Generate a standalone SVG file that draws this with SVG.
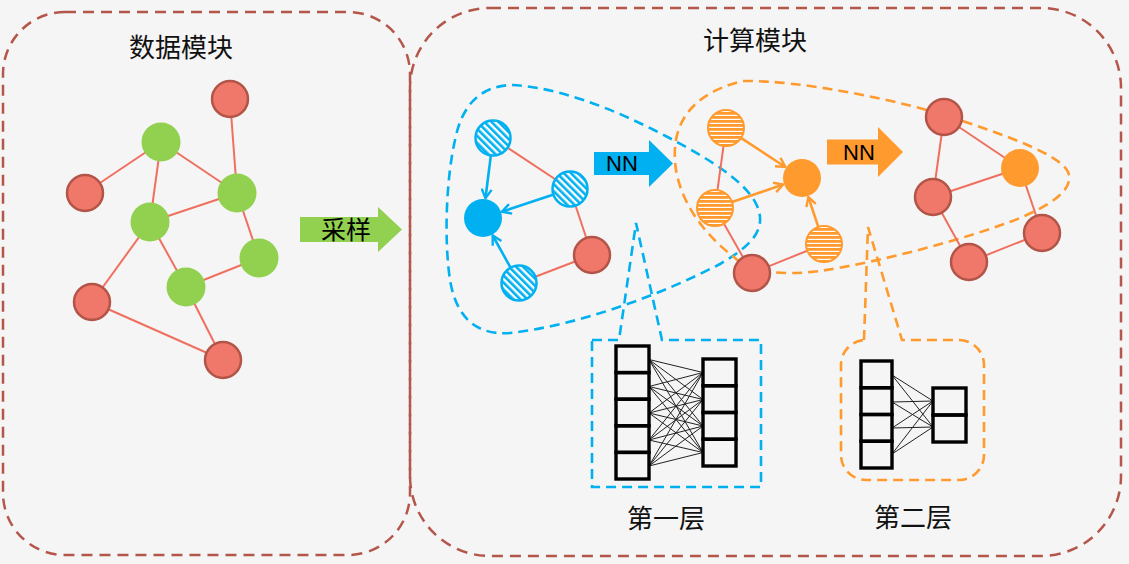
<svg xmlns="http://www.w3.org/2000/svg" width="1129" height="564" viewBox="0 0 1129 564">
<defs>
<style>
.bg{fill:#F5F5F5}
.box{fill:none;stroke:#B5564B;stroke-width:2.5;stroke-dasharray:11 7}
.blob-b{fill:none;stroke:#00B0F0;stroke-width:2.6;stroke-dasharray:10 6}
.blob-o{fill:none;stroke:#FF9A2E;stroke-width:2.6;stroke-dasharray:10 6}
.red{fill:#F0786A;stroke:#B35448;stroke-width:2.5}
.green{fill:#92D050}
.bsolid{fill:#00B0F0}
.osolid{fill:#FF9A2E}
.bhatch{fill:url(#hb);stroke:#00B0F0;stroke-width:2.5}
.ohatch{fill:url(#ho);stroke:#FF9A2E;stroke-width:2}
.edge{stroke:#F07060;stroke-width:2;fill:none}
.barrow{stroke:#00B0F0;stroke-width:2.6;fill:none;marker-end:url(#mb)}
.oarrow{stroke:#FF9A2E;stroke-width:2.6;fill:none;marker-end:url(#mo)}
.cell{fill:none;stroke:#000;stroke-width:3.4}
.wire{stroke:#222;stroke-width:1}
.t{font-family:"Noto Sans CJK SC","Noto Sans CJK JP",sans-serif;font-size:26px;fill:#111;text-anchor:middle}
.nn{font-family:"Liberation Sans",Arial,sans-serif;font-size:22px;fill:#000;text-anchor:middle}
</style>
<pattern id="hb" width="5" height="5" patternUnits="userSpaceOnUse" patternTransform="rotate(-45)">
<rect width="5" height="5" fill="#fff"/>
<rect width="2.6" height="5" fill="#00B0F0"/>
</pattern>
<pattern id="ho" width="4" height="4" patternUnits="userSpaceOnUse">
<rect width="4" height="4" fill="#fff"/>
<rect width="4" height="2.8" fill="#FF9A2E"/>
</pattern>
<marker id="mb" viewBox="0 0 12 12" refX="11" refY="6" markerWidth="12" markerHeight="12" markerUnits="userSpaceOnUse" orient="auto">
<path d="M2,1 L11,6 L2,11" fill="none" stroke="#00B0F0" stroke-width="2.4"/>
</marker>
<marker id="mo" viewBox="0 0 12 12" refX="11" refY="6" markerWidth="12" markerHeight="12" markerUnits="userSpaceOnUse" orient="auto">
<path d="M2,1 L11,6 L2,11" fill="none" stroke="#FF9A2E" stroke-width="2.4"/>
</marker>
</defs>
<rect class="bg" x="0" y="0" width="1129" height="564"/>

<g id="data-module">
<rect class="box" x="3" y="12" width="407" height="543" rx="62" ry="62"/>
<text class="t" x="181" y="57">数据模块</text>
</g>
<g id="compute-module">
<rect class="box" x="410" y="8" width="711" height="548" rx="80" ry="80"/>
<text class="t" x="755" y="50">计算模块</text>
</g>

<g id="blob-blue">
<path class="blob-b" d="M512,85 C570,88 640,120 700,155 C735,176 762,198 760,222 C758,240 740,252 720,264 C660,295 580,325 510,333 C470,336 455,310 450,280 C444,240 446,180 455,140 C462,105 480,86 512,85 Z"/>
</g>
<g id="blob-orange">
<path class="blob-o" d="M743,81 C800,80 900,100 960,120 C1010,137 1060,155 1068,172 C1075,190 1050,205 1020,218 C970,238 880,262 820,271 C780,276 750,272 735,258 C705,235 682,205 676,170 C670,130 685,95 743,81 Z"/>
</g>

<g id="connectors">
<line class="edge" x1="230" y1="99" x2="237" y2="193"/>
<line class="edge" x1="161" y1="142" x2="85" y2="193"/>
<line class="edge" x1="161" y1="142" x2="237" y2="193"/>
<line class="edge" x1="161" y1="142" x2="150" y2="222"/>
<line class="edge" x1="150" y1="222" x2="237" y2="193"/>
<line class="edge" x1="237" y1="193" x2="259" y2="258"/>
<line class="edge" x1="150" y1="222" x2="92" y2="302"/>
<line class="edge" x1="150" y1="222" x2="186" y2="287"/>
<line class="edge" x1="186" y1="287" x2="259" y2="258"/>
<line class="edge" x1="186" y1="287" x2="223" y2="360"/>
<line class="edge" x1="92" y1="302" x2="223" y2="360"/>

<line class="edge" x1="493" y1="138" x2="570" y2="189"/>
<line class="edge" x1="570" y1="189" x2="592" y2="255"/>
<line class="edge" x1="519" y1="283" x2="592" y2="255"/>
<line class="barrow" x1="490.8" y1="155.9" x2="485.5" y2="198.2"/>
<line class="barrow" x1="552.9" y1="194.7" x2="502" y2="211.7"/>
<line class="barrow" x1="510.3" y1="267.2" x2="492.7" y2="235.5"/>

<line class="edge" x1="726" y1="128" x2="715" y2="208"/>
<line class="edge" x1="715" y1="208" x2="752" y2="273"/>
<line class="edge" x1="752" y1="273" x2="824" y2="244"/>
<line class="oarrow" x1="741" y1="137.9" x2="785.3" y2="167"/>
<line class="oarrow" x1="732" y1="202.1" x2="783.1" y2="184.5"/>
<line class="oarrow" x1="818.3" y1="226.9" x2="808.3" y2="197"/>

<line class="edge" x1="944" y1="117" x2="1020" y2="168"/>
<line class="edge" x1="944" y1="117" x2="933" y2="197"/>
<line class="edge" x1="933" y1="197" x2="1020" y2="168"/>
<line class="edge" x1="1020" y1="168" x2="1042" y2="233"/>
<line class="edge" x1="933" y1="197" x2="969" y2="262"/>
<line class="edge" x1="969" y1="262" x2="1042" y2="233"/>
</g>

<g id="arrow-sample">
<polygon points="300,217 378,217 378,207 402,229.5 378,252 378,242 300,242" fill="#92D050"/>
<text x="346" y="239" font-family="Noto Sans CJK SC,sans-serif" font-size="25" fill="#000" text-anchor="middle">采样</text>
</g>
<g id="arrow-nn1">
<polygon points="594,152 649,152 649,140 673,163.5 649,187 649,175 594,175" fill="#00B0F0"/>
<text class="nn" x="622" y="171">NN</text>
</g>
<g id="arrow-nn2">
<polygon points="827,139.5 878,139.5 878,127 903,152 878,177 878,164.5 827,164.5" fill="#FF9A2E"/>
<text class="nn" x="859" y="160">NN</text>
</g>

<g id="n-l-r1"><circle class="red" cx="230" cy="99" r="18"/></g>
<g id="n-l-g1"><circle class="green" cx="161" cy="142" r="19.5"/></g>
<g id="n-l-r2"><circle class="red" cx="85" cy="193" r="18"/></g>
<g id="n-l-g2"><circle class="green" cx="237" cy="193" r="19.5"/></g>
<g id="n-l-g3"><circle class="green" cx="150" cy="222" r="19.5"/></g>
<g id="n-l-g4"><circle class="green" cx="259" cy="258" r="19.5"/></g>
<g id="n-l-g5"><circle class="green" cx="186" cy="287" r="19.5"/></g>
<g id="n-l-r3"><circle class="red" cx="92" cy="302" r="18"/></g>
<g id="n-l-r4"><circle class="red" cx="223" cy="360" r="18"/></g>

<g id="n-b-h1"><circle class="bhatch" cx="493" cy="138" r="17.5"/></g>
<g id="n-b-h2"><circle class="bhatch" cx="570" cy="189" r="17.5"/></g>
<g id="n-b-s"><circle class="bsolid" cx="483" cy="218" r="19"/></g>
<g id="n-b-h3"><circle class="bhatch" cx="519" cy="283" r="17.5"/></g>
<g id="n-b-r"><circle class="red" cx="592" cy="255" r="18"/></g>

<g id="n-o-h1"><circle class="ohatch" cx="726" cy="128" r="18"/></g>
<g id="n-o-h2"><circle class="ohatch" cx="715" cy="208" r="18"/></g>
<g id="n-o-s"><circle class="osolid" cx="802" cy="178" r="19"/></g>
<g id="n-o-h3"><circle class="ohatch" cx="824" cy="244" r="18"/></g>
<g id="n-o-r"><circle class="red" cx="752" cy="273" r="18"/></g>

<g id="n-r-r1"><circle class="red" cx="944" cy="117" r="18"/></g>
<g id="n-r-o"><circle class="osolid" cx="1020" cy="168" r="19"/></g>
<g id="n-r-r2"><circle class="red" cx="933" cy="197" r="18"/></g>
<g id="n-r-r3"><circle class="red" cx="1042" cy="233" r="18"/></g>
<g id="n-r-r4"><circle class="red" cx="969" cy="262" r="18"/></g>

<g id="layer1">
<path class="blob-b" d="M592,340 H619 L636,223 L662,340 H761 V487 H592 Z"/>
<g class="wire">
<line x1="649" y1="359.5" x2="703" y2="372.5"/><line x1="649" y1="359.5" x2="703" y2="399.5"/><line x1="649" y1="359.5" x2="703" y2="426"/><line x1="649" y1="359.5" x2="703" y2="452.5"/>
<line x1="649" y1="386.5" x2="703" y2="372.5"/><line x1="649" y1="386.5" x2="703" y2="399.5"/><line x1="649" y1="386.5" x2="703" y2="426"/><line x1="649" y1="386.5" x2="703" y2="452.5"/>
<line x1="649" y1="413" x2="703" y2="372.5"/><line x1="649" y1="413" x2="703" y2="399.5"/><line x1="649" y1="413" x2="703" y2="426"/><line x1="649" y1="413" x2="703" y2="452.5"/>
<line x1="649" y1="440" x2="703" y2="372.5"/><line x1="649" y1="440" x2="703" y2="399.5"/><line x1="649" y1="440" x2="703" y2="426"/><line x1="649" y1="440" x2="703" y2="452.5"/>
<line x1="649" y1="466" x2="703" y2="372.5"/><line x1="649" y1="466" x2="703" y2="399.5"/><line x1="649" y1="466" x2="703" y2="426"/><line x1="649" y1="466" x2="703" y2="452.5"/>
</g>
<rect class="cell" x="616" y="346" width="33" height="26.6"/>
<rect class="cell" x="616" y="372.6" width="33" height="26.6"/>
<rect class="cell" x="616" y="399.2" width="33" height="26.6"/>
<rect class="cell" x="616" y="425.8" width="33" height="26.6"/>
<rect class="cell" x="616" y="452.4" width="33" height="26.6"/>
<rect class="cell" x="703" y="359" width="33" height="26.75"/>
<rect class="cell" x="703" y="385.75" width="33" height="26.75"/>
<rect class="cell" x="703" y="412.5" width="33" height="26.75"/>
<rect class="cell" x="703" y="439.25" width="33" height="26.75"/>
<text class="t" x="666" y="528">第一层</text>
</g>

<g id="layer2">
<path class="blob-o" d="M864,340 L868,227 L902,340 H959 A25,25 0 0 1 984,365 V455 A25,25 0 0 1 959,480 H866 A25,25 0 0 1 841,455 V365 A25,25 0 0 1 864,340 Z"/>
<g class="wire">
<line x1="892" y1="375" x2="933" y2="401"/><line x1="892" y1="375" x2="933" y2="427"/>
<line x1="892" y1="402" x2="933" y2="401"/><line x1="892" y1="402" x2="933" y2="427"/>
<line x1="892" y1="428" x2="933" y2="401"/><line x1="892" y1="428" x2="933" y2="427"/>
<line x1="892" y1="454" x2="933" y2="401"/><line x1="892" y1="454" x2="933" y2="427"/>
</g>
<rect class="cell" x="861" y="361" width="31" height="26.75"/>
<rect class="cell" x="861" y="387.75" width="31" height="26.75"/>
<rect class="cell" x="861" y="414.5" width="31" height="26.75"/>
<rect class="cell" x="861" y="441.25" width="31" height="26.75"/>
<rect class="cell" x="933" y="388" width="33" height="27"/>
<rect class="cell" x="933" y="415" width="33" height="27"/>
<text class="t" x="913" y="527">第二层</text>
</g>
</svg>
